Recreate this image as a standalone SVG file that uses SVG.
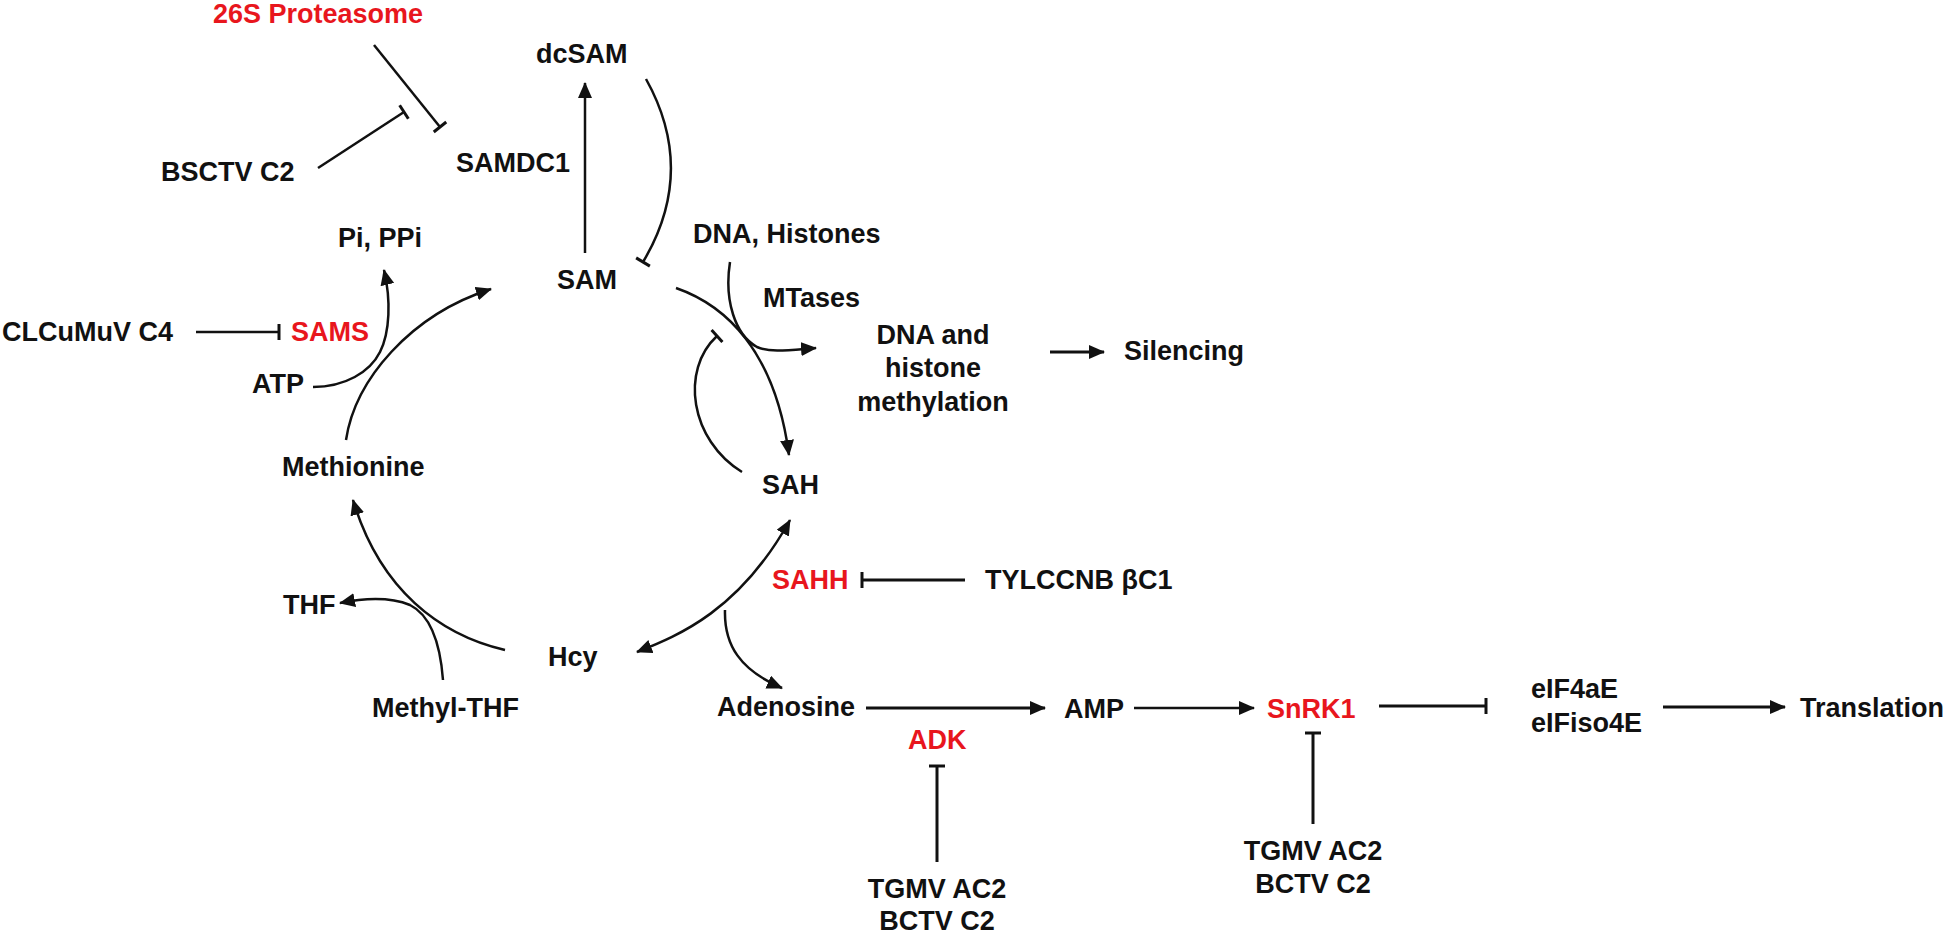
<svg xmlns="http://www.w3.org/2000/svg" width="1950" height="936" viewBox="0 0 1950 936">
<style>
.t{font-family:"Liberation Sans",Arial,Helvetica,sans-serif;font-weight:bold;font-size:27px;fill:#111}
.r{fill:#e8161d}
.m{text-anchor:middle}
.c{fill:none;stroke:#111;stroke-width:2.5}
.k{fill:none;stroke:#111;stroke-width:3}
</style>
<defs>
<marker id="ah" viewBox="0 0 16 14" refX="15" refY="7" markerWidth="16" markerHeight="14" markerUnits="userSpaceOnUse" orient="auto"><path d="M0,0 L16,7 L0,14 z" fill="#111"/></marker>
<marker id="ahs" viewBox="0 0 16 14" refX="15" refY="7" markerWidth="16" markerHeight="14" markerUnits="userSpaceOnUse" orient="auto-start-reverse"><path d="M0,0 L16,7 L0,14 z" fill="#111"/></marker>
<marker id="tee" viewBox="-3 -10 6 20" refX="0" refY="0" markerWidth="6" markerHeight="20" markerUnits="userSpaceOnUse" orient="auto"><path d="M0,-8 L0,8" stroke="#111" stroke-width="3"/></marker>
</defs>
<rect width="1950" height="936" fill="#fff"/>
<g id="connectors">
<path class="c" d="M374,45 L440,127" marker-end="url(#tee)"/>
<path class="c" d="M318,168 L404,112" marker-end="url(#tee)"/>
<path class="c" d="M585,253 L585,83" marker-end="url(#ah)"/>
<path class="c" d="M646,79 C680,140 680,200 643,262" marker-end="url(#tee)"/>
<path class="c" d="M196,332 L279,332" marker-end="url(#tee)"/>
<path class="c" d="M346,440 C355,380 410,315 491,289" marker-end="url(#ah)"/>
<path class="c" d="M313,387 C345,387 370,372 380,352 C390,332 391,300 384,270" marker-end="url(#ah)"/>
<path class="c" d="M505,650 C440,635 380,590 353,500" marker-end="url(#ah)"/>
<path class="c" d="M443,680 C440,640 430,615 410,605 C390,597 365,598 340,603" marker-end="url(#ah)"/>
<path class="c" d="M676,288 C725,305 775,350 789,455" marker-end="url(#ah)"/>
<path class="c" d="M730,262 C724,300 735,335 757,347 C770,353 790,350 816,348" marker-end="url(#ah)"/>
<path class="c" d="M742,472 C690,440 680,370 717,336" marker-end="url(#tee)"/>
<path class="k" d="M1050,352 L1104,352" marker-end="url(#ah)"/>
<path class="k" d="M965,580 L862,580" marker-end="url(#tee)"/>
<path class="c" d="M637,652 C680,635 740,610 790,520" marker-start="url(#ahs)" marker-end="url(#ah)"/>
<path class="c" d="M725,610 C724,645 740,670 782,688" marker-end="url(#ah)"/>
<path class="k" d="M866,708 L1045,708" marker-end="url(#ah)"/>
<path class="c" d="M1134,708 L1254,708" stroke-width="2" marker-end="url(#ah)"/>
<path class="k" d="M1379,706 L1486,706" marker-end="url(#tee)"/>
<path class="k" d="M1663,707 L1785,707" marker-end="url(#ah)"/>
<path class="k" d="M937,862 L937,766" marker-end="url(#tee)"/>
<path class="k" d="M1313,824 L1313,733" marker-end="url(#tee)"/>
</g>
<g id="n-26s"><text class="t r" x="213" y="23">26S Proteasome</text></g>
<g id="n-dcsam"><text class="t" x="536" y="63">dcSAM</text></g>
<g id="n-bsctv"><text class="t" x="161" y="181">BSCTV C2</text></g>
<g id="n-samdc1"><text class="t" x="456" y="172">SAMDC1</text></g>
<g id="n-pi"><text class="t" x="338" y="247">Pi, PPi</text></g>
<g id="n-dnahist"><text class="t" x="693" y="243">DNA, Histones</text></g>
<g id="n-sam"><text class="t" x="557" y="289">SAM</text></g>
<g id="n-mtases"><text class="t" x="763" y="307">MTases</text></g>
<g id="n-clcumuv"><text class="t" x="2" y="341">CLCuMuV C4</text></g>
<g id="n-sams"><text class="t r" x="291" y="341">SAMS</text></g>
<g id="n-atp"><text class="t" x="252" y="393">ATP</text></g>
<g id="n-methyl"><text class="t m" x="933" y="344">DNA and</text><text class="t m" x="933" y="377">histone</text><text class="t m" x="933" y="411">methylation</text></g>
<g id="n-silencing"><text class="t" x="1124" y="360">Silencing</text></g>
<g id="n-methionine"><text class="t" x="282" y="476">Methionine</text></g>
<g id="n-sah"><text class="t" x="762" y="494">SAH</text></g>
<g id="n-sahh"><text class="t r" x="772" y="589">SAHH</text></g>
<g id="n-tylccnb"><text class="t" x="985" y="589">TYLCCNB βC1</text></g>
<g id="n-thf"><text class="t" x="283" y="614">THF</text></g>
<g id="n-hcy"><text class="t" x="548" y="666">Hcy</text></g>
<g id="n-methylthf"><text class="t" x="372" y="717">Methyl-THF</text></g>
<g id="n-adenosine"><text class="t" x="717" y="716">Adenosine</text></g>
<g id="n-amp"><text class="t" x="1064" y="718">AMP</text></g>
<g id="n-snrk1"><text class="t r" x="1267" y="718">SnRK1</text></g>
<g id="n-adk"><text class="t r" x="908" y="749">ADK</text></g>
<g id="n-tgmv1"><text class="t m" x="937" y="898">TGMV AC2</text><text class="t m" x="937" y="930">BCTV C2</text></g>
<g id="n-tgmv2"><text class="t m" x="1313" y="860">TGMV AC2</text><text class="t m" x="1313" y="893">BCTV C2</text></g>
<g id="n-eif"><text class="t" x="1531" y="698">eIF4aE</text><text class="t" x="1531" y="732">eIFiso4E</text></g>
<g id="n-translation"><text class="t" x="1800" y="717">Translation</text></g>
</svg>
